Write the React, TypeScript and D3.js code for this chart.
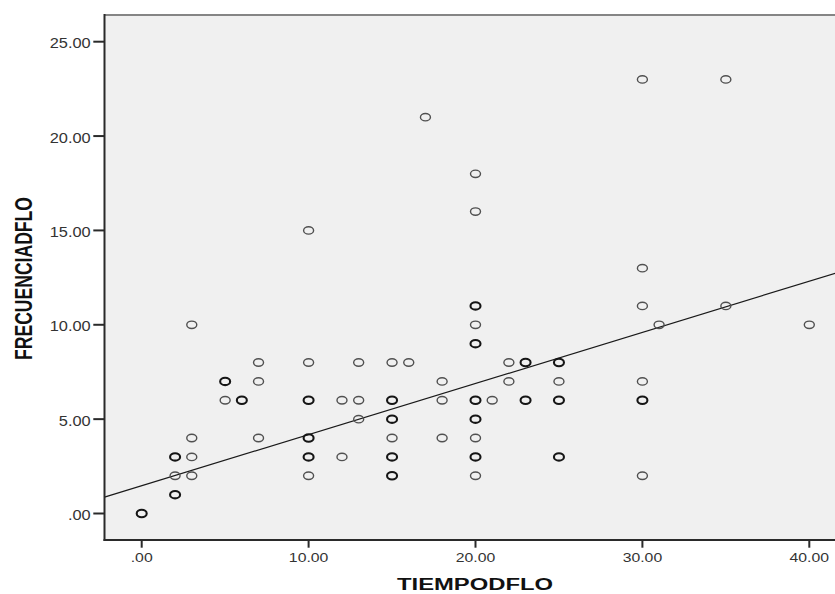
import React from "react";
import * as d3 from "d3";

// ---- data ----
const tiempo = [0, 2, 2, 2, 3, 3, 3, 3, 5, 5, 6, 7, 7, 7, 10, 10, 10, 10, 10, 10, 12, 12, 13, 13, 13, 15, 15, 15, 15, 15, 15, 16, 17, 18, 18, 18, 20, 20, 20, 20, 20, 20, 20, 20, 20, 20, 21, 22, 22, 23, 23, 25, 25, 25, 25, 30, 30, 30, 30, 30, 30, 31, 35, 35, 40];
const frecuencia = [0, 1, 2, 3, 2, 3, 4, 10, 6, 7, 6, 4, 7, 8, 2, 3, 4, 6, 8, 15, 3, 6, 5, 6, 8, 2, 3, 4, 5, 6, 8, 8, 21, 4, 6, 7, 2, 3, 4, 5, 6, 9, 10, 11, 16, 18, 6, 7, 8, 6, 8, 3, 6, 7, 8, 2, 6, 7, 11, 13, 23, 10, 11, 23, 10];
// overlap multiplicity (darker markers = repeated cases)
const overlap = [2, 2, 1, 2, 1, 1, 1, 1, 1, 2, 2, 1, 1, 1, 1, 2, 2, 2, 1, 1, 1, 1, 1, 1, 1, 2, 2, 1, 2, 2, 1, 1, 1, 1, 1, 1, 1, 2, 1, 2, 2, 2, 1, 2, 1, 1, 1, 1, 1, 2, 2, 2, 2, 1, 2, 1, 2, 1, 1, 1, 1, 1, 1, 1, 1];

const xTicks = [0, 10, 20, 30, 40];
const xTickLabels = [".00", "10.00", "20.00", "30.00", "40.00"];
const yTicks = [0, 5, 10, 15, 20, 25];
const yTickLabels = [".00", "5.00", "10.00", "15.00", "20.00", "25.00"];

const fitIntercept = 1.47;
const fitSlope = 0.271;

const xTitle = "TIEMPODFLO";
const yTitle = "FRECUENCIADFLO";

export default function App() {
  const W = 835;
  const H = 594;
  const x = d3.scaleLinear().domain([0, 40]).range([141.7, 809.3]);
  const y = d3.scaleLinear().domain([0, 25]).range([513.5, 41.7]);
  const left = 104.5;
  const right = 860;
  const top = 15;
  const bottom = 540;
  const xMin = x.invert(left);
  const xMax = x.invert(right);

  const line = d3
    .line<number>()
    .x((d) => x(d))
    .y((d) => y(fitIntercept + fitSlope * d));

  const font = "'Liberation Sans', Arial, Helvetica, sans-serif";
  const points = tiempo.map((t, i) => ({ t, f: frecuencia[i], n: overlap[i] }));

  return (
    <svg
      width={W}
      height={H}
      style={{ position: "absolute", left: 0, top: 0, background: "#fff" }}
      fontFamily={font}
    >
      <defs>
        <clipPath id="plotClip">
          <rect x={left} y={top} width={right - left} height={bottom - top} />
        </clipPath>
      </defs>
      <rect x={left} y={top} width={right - left} height={bottom - top} fill="#f0f0f0" />
      {/* top frame */}
      <line x1={left} x2={right} y1={top} y2={top} stroke="#858585" strokeWidth={2} />

      <g clipPath="url(#plotClip)">
        <path d={line([xMin, xMax]) || ""} fill="none" stroke="#1a1a1a" strokeWidth={1.2} />
        {points.map((p, i) => (
          <ellipse
            key={i}
            cx={x(p.t)}
            cy={y(p.f)}
            rx={5}
            ry={3.7}
            fill="none"
            stroke={p.n > 1 ? "#151515" : "#505050"}
            strokeWidth={p.n > 1 ? 2.1 : 1.4}
          />
        ))}
      </g>

      {/* axes */}
      <line x1={left} x2={left} y1={top - 1} y2={bottom + 1} stroke="#2a2a2a" strokeWidth={2} />
      <line x1={left - 1} x2={right} y1={bottom} y2={bottom} stroke="#2a2a2a" strokeWidth={2} />

      {yTicks.map((v, i) => (
        <g key={"y" + i}>
          <line x1={93.3} x2={left} y1={y(v)} y2={y(v)} stroke="#2a2a2a" strokeWidth={2} />
          <text
            transform={`translate(90.7,${y(v) + 6.5}) scale(1.17,1)`}
            textAnchor="end"
            fontSize={14}
            fill="#333"
          >
            {yTickLabels[i]}
          </text>
        </g>
      ))}

      {xTicks.map((v, i) => (
        <g key={"x" + i}>
          <line x1={x(v)} x2={x(v)} y1={bottom} y2={547.7} stroke="#2a2a2a" strokeWidth={2} />
          <text
            transform={`translate(${x(v)},561.7) scale(1.17,1)`}
            textAnchor="middle"
            fontSize={13.5}
            fill="#333"
          >
            {xTickLabels[i]}
          </text>
        </g>
      ))}

      <text
        x={475}
        y={590}
        textAnchor="middle"
        fontSize={16}
        fontWeight="bold"
        fill="#111"
        textLength={156}
        lengthAdjust="spacingAndGlyphs"
      >
        {xTitle}
      </text>
      <text
        transform="translate(31.7,278.5) scale(1.5,1) rotate(-90)"
        textAnchor="middle"
        fontSize={16}
        fontWeight="bold"
        fill="#111"
        textLength={163}
        lengthAdjust="spacingAndGlyphs"
      >
        {yTitle}
      </text>
    </svg>
  );
}
